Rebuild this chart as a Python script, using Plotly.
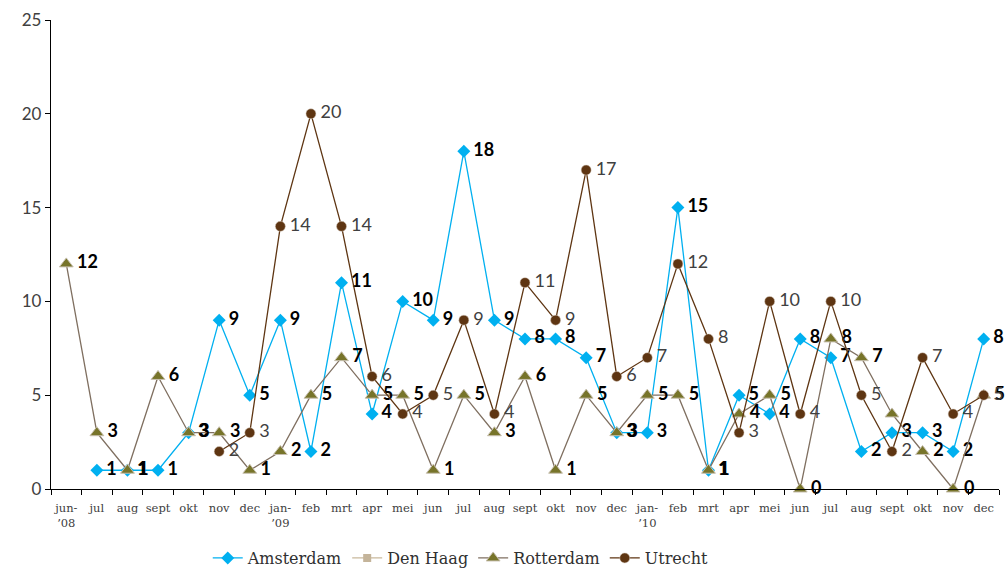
import plotly.graph_objects as go

months = ["jun-<br>’08", "jul", "aug", "sept", "okt", "nov", "dec",
          "jan-<br>’09", "feb", "mrt", "apr", "mei", "jun", "jul", "aug", "sept", "okt", "nov", "dec",
          "jan-<br>’10", "feb", "mrt", "apr", "mei", "jun", "jul", "aug", "sept", "okt", "nov", "dec"]

amsterdam = [None, 1, 1, 1, 3, 9, 5,
             9, 2, 11, 4, 10, 9, 18, 9, 8, 8, 7, 3,
             3, 15, 1, 5, 4, 8, 7, 2, 3, 3, 2, 8]
den_haag = [None] * 31
rotterdam = [12, 3, 1, 6, 3, 3, 1,
             2, 5, 7, 5, 5, 1, 5, 3, 6, 1, 5, 3,
             5, 5, 1, 4, 5, 0, 8, 7, 4, 2, 0, 5]
utrecht = [None, None, None, None, None, 2, 3,
           14, 20, 14, 6, 4, 5, 9, 4, 11, 9, 17, 6,
           7, 12, 8, 3, 10, 4, 10, 5, 2, 7, 4, 5]
rotterdam_unlabelled = [27]

x = list(range(len(months)))


def labels(vals, skip=()):
    return ["" if (v is None or i in skip) else "\u2009" + str(v) for i, v in enumerate(vals)]


bold_font = dict(family="Lato", size=18, color="#000000", weight="bold")
reg_font = dict(family="Lato", size=18, color="#404040")

fig = go.Figure()
fig.add_trace(go.Scatter(
    x=x, y=amsterdam, name="Amsterdam", mode="lines+markers+text",
    line=dict(color="#00B0F0", width=1.3),
    marker=dict(symbol="diamond", size=10, color="#00B0F0"),
    text=labels(amsterdam), textposition="middle right", textfont=bold_font,
    cliponaxis=False, connectgaps=False))
fig.add_trace(go.Scatter(
    x=x, y=den_haag, name="Den Haag", mode="lines+markers",
    line=dict(color="#C9B99C", width=1.3),
    marker=dict(symbol="square", size=8, color="#C4B49A")))
fig.add_trace(go.Scatter(
    x=x, y=rotterdam, name="Rotterdam", mode="lines+markers+text",
    line=dict(color="#7F6F60", width=1.3),
    marker=dict(symbol="triangle-up", size=12, color="#77742A",
                line=dict(color="#C8C0B0", width=1)),
    text=labels(rotterdam, rotterdam_unlabelled), textposition="middle right", textfont=bold_font,
    cliponaxis=False))
fig.add_trace(go.Scatter(
    x=x, y=utrecht, name="Utrecht", mode="lines+markers+text",
    line=dict(color="#5E3512", width=1.3),
    marker=dict(symbol="circle", size=10, color="#5E3512",
                line=dict(color="#D8CCC0", width=0.5)),
    text=labels(utrecht), textposition="middle right", textfont=reg_font,
    cliponaxis=False))

fig.update_layout(
    width=1006, height=568,
    paper_bgcolor="white", plot_bgcolor="white",
    margin=dict(l=51, r=7, t=20, b=79, autoexpand=False),
    showlegend=True,
    legend=dict(orientation="h", x=0.458, xref="container", xanchor="center",
                y=-0.111, yref="paper", yanchor="top",
                font=dict(family="DejaVu Serif", size=16, color="#303030"),
                itemwidth=30, tracegroupgap=0),
    xaxis=dict(
        range=[-0.5, len(months) - 0.5], automargin=False,
        tickmode="array", tickvals=x, ticktext=months,
        ticks="", showgrid=False, zeroline=False, ticklabelstandoff=8,
        showline=True, linecolor="#000000", linewidth=1.3,
        tickfont=dict(family="DejaVu Serif", size=11.5, color="#404040"),
        minor=dict(tick0=-0.5, dtick=1, ticks="outside", ticklen=5,
                   tickcolor="#000000", tickwidth=1, showgrid=False),
    ),
    yaxis=dict(
        range=[0, 25], dtick=5, ticks="outside", ticklen=5, tickcolor="#000000",
        showgrid=False, zeroline=False, automargin=False, ticklabelstandoff=0,
        showline=True, linecolor="#000000", linewidth=1.3,
        tickfont=dict(family="Lato", size=17, color="#404040"),
    ),
)

fig.write_html("out.html", config={"displayModeBar": False},
               post_script="document.body.style.margin='0px';")
